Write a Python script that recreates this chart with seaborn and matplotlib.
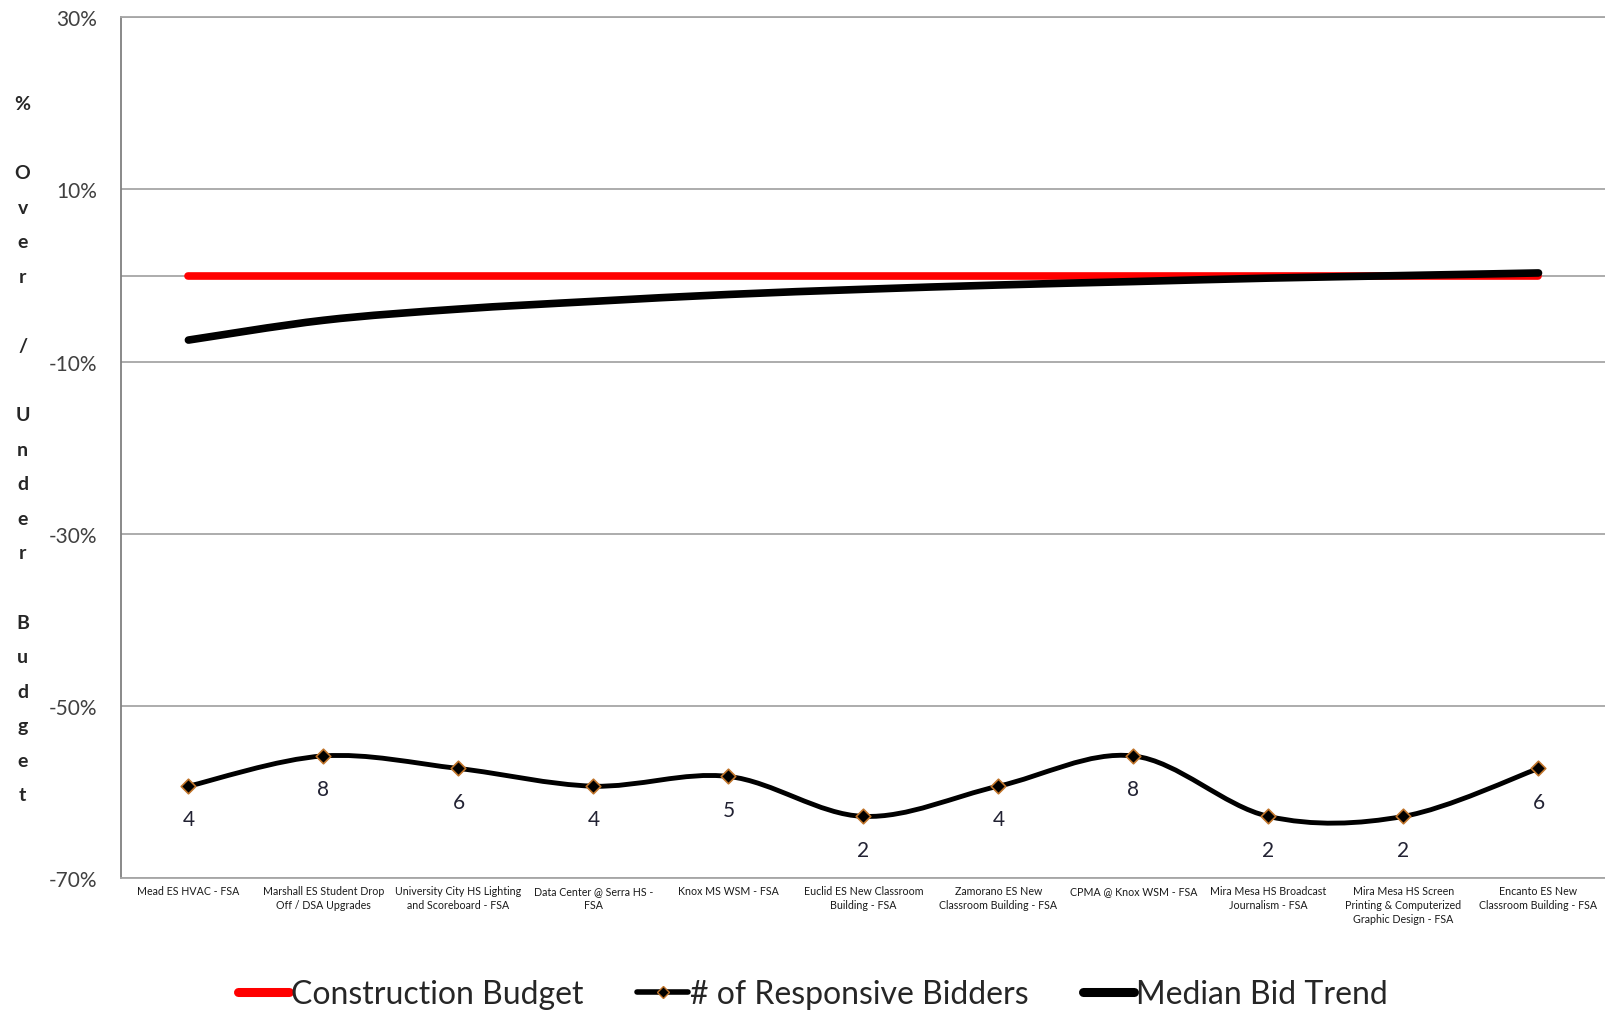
"""Bid results against construction budget, recreated with seaborn."""
import matplotlib

matplotlib.use("Agg")
import matplotlib.pyplot as plt
import numpy as np
import pandas as pd
import seaborn as sns
from matplotlib.lines import Line2D
from matplotlib.patches import PathPatch
from matplotlib.path import Path
from matplotlib.ticker import FuncFormatter

projects = [
    "Mead ES HVAC - FSA",
    "Marshall ES Student Drop\nOff / DSA Upgrades",
    "University City HS Lighting\nand Scoreboard - FSA",
    "Data Center @ Serra HS -\nFSA",
    "Knox MS WSM - FSA",
    "Euclid ES New Classroom\nBuilding - FSA",
    "Zamorano ES New\nClassroom Building - FSA",
    "CPMA @ Knox WSM - FSA",
    "Mira Mesa HS Broadcast\nJournalism - FSA",
    "Mira Mesa HS Screen\nPrinting & Computerized\nGraphic Design - FSA",
    "Encanto ES New\nClassroom Building - FSA",
]
construction_budget = [0.0, 0.0, 0.0, 0.0, 0.0, 0.0, 0.0, 0.0, 0.0, 0.0, 0.0]
median_bid_trend = [-7.5, -5.2, -3.9, -3.0, -2.2, -1.6, -1.1, -0.7, -0.3, 0.0, 0.3]
responsive_bidders = [4, 8, 6, 4, 5, 2, 4, 8, 2, 2, 6]
y_ticks = [-70, -50, -30, -10, 10, 30]
y_label = "% Over / Under Budget"

GRID = "#a6a6a6"
MARKER_EDGE = "#c0742a"


def smooth_path(xs, ys):
    """Excel-style smoothed line: Catmull-Rom segments as cubic Beziers."""
    pts = np.column_stack([xs, ys]).astype(float)
    padded = np.vstack([pts[0], pts, pts[-1]])
    verts = [pts[0]]
    codes = [Path.MOVETO]
    for i in range(len(pts) - 1):
        p0, p1, p2, p3 = padded[i], padded[i + 1], padded[i + 2], padded[i + 3]
        verts += [p1 + (p2 - p0) / 6, p2 - (p3 - p1) / 6, p2]
        codes += [Path.CURVE4] * 3
    return np.array(verts), codes


sns.set_theme(style="white")
plt.rcParams["font.family"] = ["Lato", "DejaVu Sans"]

df = pd.DataFrame({
    "idx": np.arange(len(projects)),
    "budget": construction_budget,
    "trend": median_bid_trend,
    "bidders": responsive_bidders,
})

fig = plt.figure(figsize=(16.06, 10.12), dpi=100)
ax = fig.add_axes([0.0753, 0.1316, 0.9247, 0.8502])

# construction budget (red) then median trend on top of it
sns.lineplot(data=df, x="idx", y="budget", color="red", linewidth=5.5,
             solid_capstyle="round", ax=ax, legend=False, zorder=3)
verts, codes = smooth_path(df["idx"], df["trend"])
ax.add_patch(PathPatch(Path(verts, codes), facecolor="none", edgecolor="black",
                       linewidth=5.5, capstyle="round", joinstyle="round", zorder=4))

ax.set_xlim(-0.5, len(projects) - 0.5)
ax.set_ylim(-70, 30)
ax.set_yticks(y_ticks)
ax.yaxis.set_major_formatter(FuncFormatter(lambda v, _: f"{v:.0f}%"))
ax.set_xticks(df["idx"])
ax.set_xticklabels(projects, fontsize=7.7, linespacing=1.35, color="#1a1a1a")
ax.set_xticks(np.arange(0.5, len(projects) - 0.5), minor=True)
ax.tick_params(axis="x", which="both", length=0, pad=5)
ax.tick_params(axis="y", length=0, pad=17, labelsize=15, labelcolor="#404040")
ax.set_xlabel("")
ax.set_ylabel("")

ax.grid(axis="y", which="major", color=GRID, linewidth=1.3)
ax.grid(axis="x", which="minor", color="#c8d4ec", linestyle=":", linewidth=1)
ax.axhline(0, color=GRID, linewidth=1.3, zorder=1)
for side in ["top", "bottom"]:
    ax.spines[side].set_color(GRID)
    ax.spines[side].set_linewidth(1.3)
ax.spines["left"].set_color("#808080")
ax.spines["left"].set_linewidth(1.3)
ax.spines["right"].set_visible(False)

# bidders on a hidden secondary log axis
ax2 = ax.twinx()
ax2.set_yscale("log")
ax2.set_ylim(10 ** -0.311, 10 ** 8.26)
lv, lcodes = smooth_path(df["idx"], np.log10(df["bidders"]))
lv[:, 1] = 10 ** lv[:, 1]
ax2.add_patch(PathPatch(Path(lv, lcodes), facecolor="none", edgecolor="black",
                        linewidth=3.5, capstyle="round", zorder=3))
sns.scatterplot(data=df, x="idx", y="bidders", marker="D", s=55, color="black",
                edgecolor=MARKER_EDGE, linewidth=1.2, ax=ax2, legend=False, zorder=5)
for i, v in zip(df["idx"], df["bidders"]):
    ax2.annotate(str(v), (i, v), xytext=(0, -24), textcoords="offset points",
                 ha="center", va="center", fontsize=15, color="#222233")
ax2.set_xlim(-0.5, len(projects) - 0.5)
ax2.set_yticks([])
ax2.minorticks_off()
ax2.set_ylabel("")
for side in ax2.spines:
    ax2.spines[side].set_visible(False)

# stacked letters of the y axis title, one row per character, blank row between words
letters = []
for word in y_label.split(" "):
    letters += list(word) + [""]
for k, ch in enumerate(letters[:-1]):
    fig.text(22 / 1568, 1 - (102 + 33.75 * k) / 988, ch, ha="center", va="center",
             fontsize=14, fontweight="bold", color="#262626")

handles = [
    Line2D([], [], color="red", linewidth=6.5, solid_capstyle="round"),
    Line2D([], [], color="black", linewidth=4, marker="D", markersize=6,
           markerfacecolor="black", markeredgecolor=MARKER_EDGE),
    Line2D([], [], color="black", linewidth=6.5, solid_capstyle="round"),
]
fig.legend(handles, ["Construction Budget", "# of Responsive Bidders", "Median Bid Trend"],
           loc="center", bbox_to_anchor=(0.506, 0.017), ncol=3, frameon=False,
           fontsize=23, handlelength=1.6, handletextpad=0.05, columnspacing=1.7)

fig.savefig("out.png", dpi=100)
